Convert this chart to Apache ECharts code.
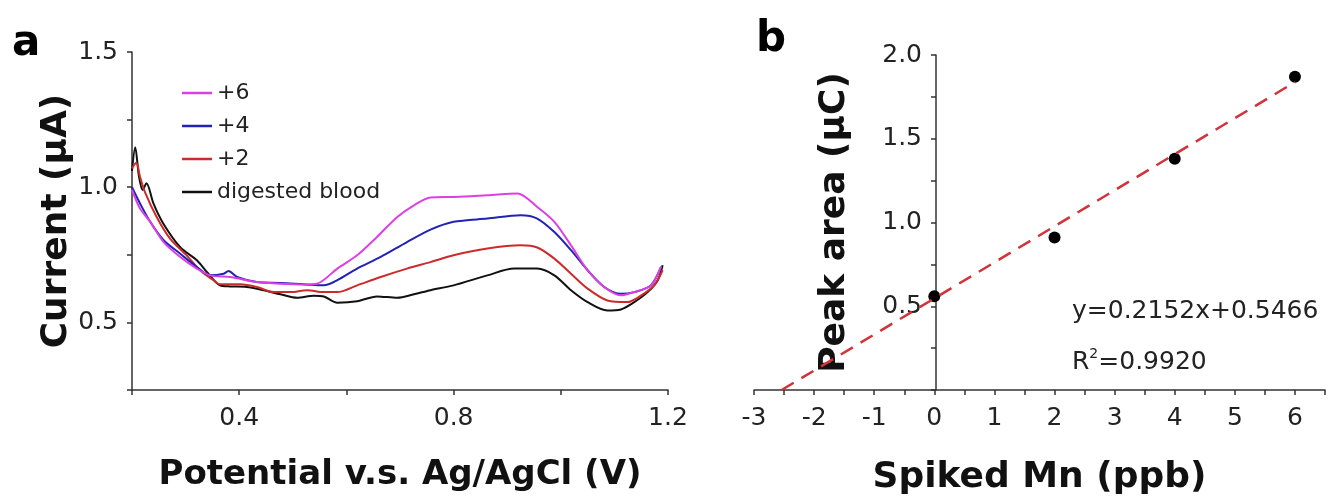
<!DOCTYPE html>
<html>
<head>
<meta charset="utf-8">
<script src="https://cdn.jsdelivr.net/npm/echarts@6/dist/echarts.min.js"></script>
<style>
  html, body { margin: 0; padding: 0; background: #fff; }
  #myChart { width: 1328px; height: 504px; }
</style>
</head>
<body>
<div id="myChart"></div>
<script>
// 面板a：伏安曲线
var bloodX = [0.2, 0.206, 0.213, 0.22, 0.227, 0.24, 0.258, 0.29, 0.321, 0.34, 0.364, 0.383, 0.414, 0.445, 0.477, 0.508, 0.539, 0.558, 0.583, 0.62, 0.657, 0.695, 0.726, 0.757, 0.8, 0.863, 0.913, 0.956, 0.988, 1.019, 1.05, 1.087, 1.112, 1.137, 1.162, 1.181, 1.19];
var bloodY = [1.06, 1.148, 1.04, 0.99, 1.015, 0.94, 0.867, 0.778, 0.73, 0.686, 0.637, 0.633, 0.631, 0.619, 0.604, 0.591, 0.599, 0.596, 0.573, 0.578, 0.596, 0.591, 0.604, 0.619, 0.637, 0.674, 0.699, 0.699, 0.674, 0.619, 0.575, 0.544, 0.548, 0.575, 0.612, 0.656, 0.711];

var plus2X = [0.2, 0.208, 0.215, 0.224, 0.246, 0.271, 0.302, 0.327, 0.352, 0.364, 0.402, 0.433, 0.464, 0.495, 0.527, 0.558, 0.583, 0.62, 0.664, 0.713, 0.757, 0.8, 0.863, 0.925, 0.956, 0.988, 1.019, 1.05, 1.087, 1.124, 1.15, 1.174, 1.19];
var plus2Y = [1.07, 1.09, 1.038, 0.983, 0.89, 0.81, 0.748, 0.693, 0.656, 0.641, 0.641, 0.631, 0.612, 0.612, 0.619, 0.612, 0.612, 0.637, 0.668, 0.699, 0.723, 0.748, 0.773, 0.785, 0.777, 0.736, 0.68, 0.625, 0.581, 0.575, 0.6, 0.637, 0.693];

var plus4X = [0.2, 0.215, 0.234, 0.259, 0.29, 0.321, 0.346, 0.371, 0.38, 0.396, 0.433, 0.477, 0.52, 0.558, 0.583, 0.62, 0.664, 0.713, 0.757, 0.8, 0.863, 0.925, 0.956, 0.988, 1.019, 1.05, 1.081, 1.112, 1.137, 1.168, 1.187];
var plus4Y = [1.0, 0.94, 0.872, 0.804, 0.754, 0.705, 0.674, 0.68, 0.69, 0.668, 0.649, 0.646, 0.641, 0.637, 0.656, 0.699, 0.742, 0.797, 0.843, 0.872, 0.884, 0.896, 0.884, 0.834, 0.767, 0.693, 0.631, 0.606, 0.612, 0.637, 0.705];

var plus6X = [0.2, 0.215, 0.234, 0.259, 0.29, 0.321, 0.346, 0.383, 0.433, 0.477, 0.52, 0.545, 0.583, 0.62, 0.657, 0.695, 0.726, 0.757, 0.8, 0.863, 0.919, 0.956, 0.988, 1.019, 1.05, 1.081, 1.112, 1.137, 1.168, 1.187];
var plus6Y = [0.99, 0.921, 0.872, 0.797, 0.742, 0.699, 0.674, 0.668, 0.649, 0.643, 0.64, 0.643, 0.699, 0.748, 0.816, 0.89, 0.933, 0.962, 0.964, 0.97, 0.977, 0.927, 0.872, 0.785, 0.693, 0.631, 0.6, 0.612, 0.637, 0.705];

// 面板b：加标曲线
var spikedMn = [0, 2, 4, 6];
var peakArea = [0.56, 0.91, 1.38, 1.87];
var fitX = [-2.54, 6];
var fitY = [0, 1.838];

var FONT = "DejaVu Sans";
var AXIS = "#333";

function zip(xs, ys) {
  var out = [];
  for (var i = 0; i < xs.length; i++) out.push([xs[i], ys[i]]);
  return out;
}
function near(v, step) {
  return Math.abs(v / step - Math.round(v / step)) < 1e-6;
}

var myChart = echarts.init(document.getElementById("myChart"));

var lineBase = { type: "line", xAxisIndex: 0, yAxisIndex: 0, symbol: "none", smooth: 0.3, animation: false };

myChart.setOption({
  animation: false,
  textStyle: { fontFamily: FONT },
  grid: [
    { left: 132, top: 52, width: 536, height: 338 },
    { left: 754, top: 55, width: 577, height: 335 }
  ],
  legend: {
    data: ["+6", "+4", "+2", "digested blood"],
    orient: "vertical",
    left: 177,
    top: 77,
    icon: "rect",
    itemWidth: 30,
    itemHeight: 2.5,
    itemGap: 11,
    textStyle: { fontFamily: FONT, fontSize: 22, color: "#222", lineHeight: 22 }
  },
  xAxis: [
    {
      gridIndex: 0, type: "value", min: 0.2, max: 1.2, interval: 0.2,
      name: "Potential v.s. Ag/AgCl (V)", nameLocation: "middle", nameGap: 68,
      nameTextStyle: { fontFamily: FONT, fontSize: 34, fontWeight: "bold", color: "#111" },
      axisLine: { lineStyle: { color: AXIS, width: 1.5 } },
      axisTick: { length: 5, lineStyle: { color: AXIS, width: 1.5 } },
      axisLabel: {
        fontSize: 25, color: "#222", margin: 16,
        formatter: function (v) { return (v > 0.3 && near(v, 0.4)) ? v.toFixed(1) : ""; }
      },
      splitLine: { show: false }
    },
    {
      gridIndex: 1, type: "value", min: -3, max: 6.5, interval: 0.5,
      name: "Spiked Mn (ppb)", nameLocation: "middle", nameGap: 70,
      nameTextStyle: { fontFamily: FONT, fontSize: 36, fontWeight: "bold", color: "#111" },
      axisLine: { onZero: false, lineStyle: { color: AXIS, width: 1.5 } },
      axisTick: { length: 5, lineStyle: { color: AXIS, width: 1.5 } },
      axisLabel: {
        fontSize: 25, color: "#222", margin: 16, showMaxLabel: true,
        formatter: function (v) { return near(v, 1) ? String(Math.round(v)) : ""; }
      },
      splitLine: { show: false }
    }
  ],
  yAxis: [
    {
      gridIndex: 0, type: "value", min: 0.25, max: 1.5, interval: 0.25,
      name: "Current (\u03bcA)", nameLocation: "middle", nameGap: 57, nameRotate: 90,
      nameTextStyle: { fontFamily: FONT, fontSize: 36, fontWeight: "bold", color: "#111" },
      axisLine: { show: true, lineStyle: { color: AXIS, width: 1.5 } },
      axisTick: { show: true, length: 5, lineStyle: { color: AXIS, width: 1.5 } },
      axisLabel: {
        fontSize: 25, color: "#222", margin: 14,
        formatter: function (v) { return near(v, 0.5) ? v.toFixed(1) : ""; }
      },
      splitLine: { show: false }
    },
    {
      // 纵轴画在 x=0 处：用 offset 把轴往右挪
      gridIndex: 1, type: "value", min: 0, max: 2.0, interval: 0.25,
      offset: -182,
      name: "Peak area (\u03bcC)", nameLocation: "middle", nameGap: 83, nameRotate: 90,
      nameTextStyle: { fontFamily: FONT, fontSize: 36, fontWeight: "bold", color: "#111" },
      axisLine: { show: true, onZero: false, lineStyle: { color: AXIS, width: 1.5 } },
      axisTick: { show: true, length: 5, lineStyle: { color: AXIS, width: 1.5 } },
      axisLabel: {
        fontSize: 25, color: "#222", margin: 14,
        formatter: function (v) { return (v > 0.1 && near(v, 0.5)) ? v.toFixed(1) : ""; }
      },
      splitLine: { show: false }
    }
  ],
  series: [
    Object.assign({}, lineBase, { name: "digested blood", data: zip(bloodX, bloodY), lineStyle: { color: "#111", width: 2 }, itemStyle: { color: "#111" } }),
    Object.assign({}, lineBase, { name: "+2", data: zip(plus2X, plus2Y), lineStyle: { color: "#cc2b2b", width: 2 }, itemStyle: { color: "#cc2b2b" } }),
    Object.assign({}, lineBase, { name: "+4", data: zip(plus4X, plus4Y), lineStyle: { color: "#2222b4", width: 2 }, itemStyle: { color: "#2222b4" } }),
    Object.assign({}, lineBase, { name: "+6", data: zip(plus6X, plus6Y), lineStyle: { color: "#dc40e4", width: 2 }, itemStyle: { color: "#dc40e4" } }),
    {
      name: "fit", type: "line", xAxisIndex: 1, yAxisIndex: 1, symbol: "none",
      data: zip(fitX, fitY),
      lineStyle: { color: "#d0333a", width: 2.5, type: [14, 9] }
    },
    {
      name: "points", type: "scatter", xAxisIndex: 1, yAxisIndex: 1,
      symbolSize: 12, data: zip(spikedMn, peakArea),
      itemStyle: { color: "#000", opacity: 1 }
    }
  ],
  graphic: [
    { type: "text", left: 12, top: 23, style: { text: "a", font: "bold 42px " + FONT, fill: "#000" } },
    { type: "text", left: 756, top: 19, style: { text: "b", font: "bold 42px " + FONT, fill: "#000" } },
    { type: "text", left: 1072, top: 299, style: { text: "y=0.2152x+0.5466", font: "25px " + FONT, fill: "#222" } },
    {
      type: "text", left: 1072, top: 347,
      style: {
        text: "R{sup|2}=0.9920", font: "25px " + FONT, fill: "#222",
        rich: { sup: { fontSize: 14, fontFamily: FONT, verticalAlign: "top", lineHeight: 30, fill: "#222" } }
      }
    }
  ]
});
</script>
</body>
</html>
